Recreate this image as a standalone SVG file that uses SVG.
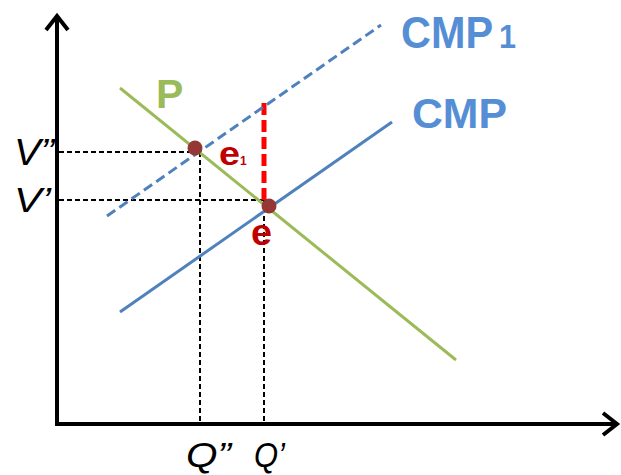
<svg xmlns="http://www.w3.org/2000/svg" width="621" height="475" viewBox="0 0 621 475">
<style>
.axis{stroke:#000;stroke-width:4;fill:none}
.guide{stroke:#000;stroke-width:2;stroke-dasharray:5 3;fill:none}
.lbl{font-family:"Liberation Sans",Arial,sans-serif;font-style:italic;fill:#000}
.big{font-family:"Liberation Sans",Arial,sans-serif;font-weight:bold}
</style>
<rect width="621" height="475" fill="#fff"/>
<g id="axes">
<line class="axis" x1="57" y1="18" x2="57" y2="425"/>
<line class="axis" x1="55" y1="424" x2="615" y2="424"/>
<polyline class="axis" points="46,30 57,16 68,30"/>
<polyline class="axis" points="603,413 617,424 603,435"/>
</g>
<g id="connectors">
<line class="guide" x1="59" y1="152" x2="200" y2="152"/>
<line class="guide" x1="200" y1="152" x2="200" y2="422"/>
<line class="guide" x1="59" y1="200" x2="264" y2="200"/>
<line class="guide" x1="264" y1="200" x2="264" y2="422"/>
<line x1="264" y1="103" x2="264" y2="200" stroke="#FF0000" stroke-width="5" stroke-dasharray="12 5"/>
<line id="CMP1-line" x1="107" y1="216" x2="381" y2="25" stroke="#4F81BD" stroke-width="3" stroke-dasharray="10 5"/>
<line id="CMP-line" x1="120" y1="312" x2="392" y2="122" stroke="#4F81BD" stroke-width="3"/>
<line id="P-line" x1="120" y1="88" x2="456" y2="360" stroke="#9BBB59" stroke-width="3"/>
</g>
<g id="e1">
<circle cx="195" cy="148" r="7.5" fill="#953735"/>
<text class="big" x="219" y="165" font-size="34" fill="#C00000" textLength="21" lengthAdjust="spacingAndGlyphs">e</text>
<text class="big" x="240" y="165" font-size="12" fill="#C00000">1</text>
</g>
<g id="e">
<circle cx="269" cy="206" r="7.5" fill="#953735"/>
<text class="big" x="251" y="245" font-size="36" fill="#C00000" textLength="21" lengthAdjust="spacingAndGlyphs">e</text>
</g>
<g id="CMP1">
<text class="big" x="401" y="48" font-size="45" fill="#558ED5" textLength="92" lengthAdjust="spacingAndGlyphs">CMP</text>
<text class="big" x="499" y="48" font-size="34" fill="#558ED5" textLength="17" lengthAdjust="spacingAndGlyphs">1</text>
</g>
<g id="CMP">
<text class="big" x="412" y="128" font-size="43" fill="#558ED5" textLength="95" lengthAdjust="spacingAndGlyphs">CMP</text>
</g>
<g id="P">
<text class="big" x="156" y="108" font-size="41" fill="#9BBB59">P</text>
</g>
<g id="labels">
<text class="lbl" x="14" y="165" font-size="37" textLength="40" lengthAdjust="spacingAndGlyphs">V”</text>
<text class="lbl" x="14" y="212" font-size="35" textLength="37" lengthAdjust="spacingAndGlyphs">V’</text>
<text class="lbl" x="186" y="467" font-size="35" textLength="45" lengthAdjust="spacingAndGlyphs">Q”</text>
<text class="lbl" x="254" y="467" font-size="35" textLength="31" lengthAdjust="spacingAndGlyphs">Q’</text>
</g>
</svg>
